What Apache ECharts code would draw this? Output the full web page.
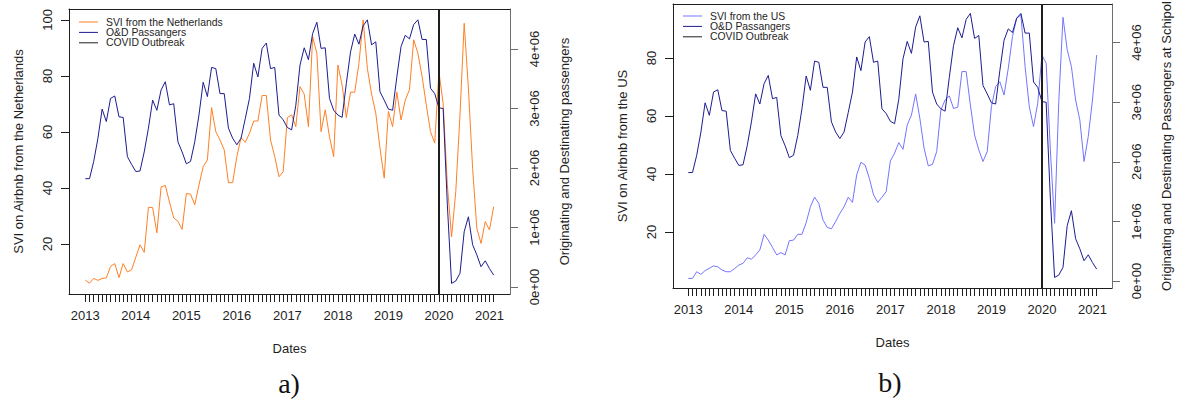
<!DOCTYPE html>
<html>
<head>
<meta charset="utf-8">
<script src="https://cdn.jsdelivr.net/npm/echarts@6.0.0/dist/echarts.min.js"></script>
<style>
  html, body { margin: 0; padding: 0; background: #ffffff; }
  #chart { width: 1178px; height: 405px; }
</style>
</head>
<body>
<div id="chart"></div>
<script>
// Monthly observations, index 0 = January 2013, last = February 2021
const years = ['2013', '2014', '2015', '2016', '2017', '2018', '2019', '2020', '2021'];

// Google search volume index for Airbnb, searches from the Netherlands
const svi_nl = [
  7.1, 6.0, 7.7, 7.0, 7.7, 7.9, 12.0, 13.0, 8.0, 13.0, 10.0, 10.8,
  15.3, 19.7, 17.0, 33.1, 33.0, 24.0, 40.3, 40.9, 35.0, 29.3, 28.1, 25.2,
  38.0, 37.8, 34.0, 41.0, 47.6, 50.0, 68.7, 60.1, 57.1, 53.6, 41.9, 41.9,
  51.2, 58.0, 56.3, 59.5, 63.9, 63.9, 73.0, 73.0, 57.1, 51.2, 44.0, 45.8,
  65.1, 66.1, 61.9, 76.2, 73.5, 61.9, 94.0, 88.1, 60.1, 67.9, 58.3, 51.2,
  83.9, 76.8, 65.1, 74.2, 74.2, 84.5, 100.0, 82.7, 73.5, 66.7, 54.2, 43.5,
  67.3, 61.9, 74.2, 64.3, 71.4, 75.0, 92.9, 88.1, 79.8, 69.6, 60.1, 56.0,
  81.5, 70.2, 41.1, 22.5, 38.7, 66.1, 98.8, 75.6, 47.0, 25.6, 20.2, 28.0,
  25.0, 33.3
];

// Google search volume index for Airbnb, searches from the US
const svi_us = [
  4.0, 4.0, 6.3, 5.4, 6.7, 7.5, 8.3, 8.0, 6.9, 6.3, 6.3, 7.4,
  8.6, 9.2, 11.1, 10.6, 12.1, 13.8, 19.2, 17.2, 14.7, 12.1, 12.9, 12.1,
  17.0, 17.2, 19.2, 19.2, 23.2, 28.7, 32.0, 29.9, 24.1, 21.6, 21.1, 23.6,
  26.4, 28.7, 32.0, 30.2, 39.7, 44.0, 43.1, 38.5, 32.8, 30.2, 32.0, 33.9,
  44.5, 47.2, 50.8, 48.5, 56.9, 60.3, 67.6, 59.2, 48.9, 42.8, 43.3, 47.7,
  62.1, 65.5, 66.9, 62.6, 63.0, 75.3, 75.3, 63.8, 53.4, 48.3, 44.3, 47.7,
  63.2, 70.1, 71.8, 67.2, 76.4, 87.4, 93.7, 94.8, 77.0, 63.2, 56.3, 64.4,
  81.0, 78.2, 48.3, 23.0, 65.0, 94.0, 82.8, 77.0, 65.5, 58.6, 44.3, 52.9,
  65.5, 81.0
];

// Originating and destinating passengers at Schiphol, millions per month
const passengers = [
  1.82, 1.82, 2.11, 2.50, 2.99, 2.78, 3.17, 3.21, 2.86, 2.85, 2.19, 2.06,
  1.94, 1.95, 2.27, 2.67, 3.14, 2.97, 3.31, 3.45, 3.06, 3.08, 2.44, 2.27,
  2.07, 2.11, 2.44, 2.89, 3.44, 3.20, 3.69, 3.67, 3.25, 3.25, 2.67, 2.50,
  2.39, 2.50, 2.83, 3.17, 3.76, 3.53, 4.01, 4.10, 3.67, 3.69, 2.89, 2.81,
  2.68, 2.64, 3.05, 3.73, 4.02, 3.82, 4.26, 4.45, 4.01, 4.02, 3.17, 2.97,
  2.89, 2.85, 3.42, 3.95, 4.25, 4.08, 4.39, 4.49, 4.07, 4.12, 3.28, 3.14,
  2.99, 2.97, 3.53, 4.04, 4.23, 4.17, 4.41, 4.49, 4.16, 4.16, 3.34, 3.25,
  3.01, 3.00, 1.38, 0.06, 0.10, 0.23, 0.93, 1.18, 0.71, 0.54, 0.34, 0.44,
  0.31, 0.20
];

// Month index of the COVID outbreak marker (January 2020)
const covidMonth = 84;

const svTicksA = [20, 40, 60, 80, 100];
const svTicksB = [20, 40, 60, 80];
const paxTicks = [0, 1, 2, 3, 4];

const FONT = '"Liberation Sans", Arial, Helvetica, sans-serif';
const INK = '#1e1e1e';
const GREY = '#6e6e6e';
const ORANGE = '#FF7F24';
const NAVY = '#1c1c90';
const PERIWINKLE = '#7474ff';

// thin horizontal bar used as the legend key
const KEY_ICON = 'path://M0,0H19V1H0Z';

const monthTicks = svi_nl.map((_, i) => i);
const yearTicks = years.map((_, i) => i * 12);
const pairs = arr => arr.map((v, i) => [i, v]);

const txt = size => ({ color: INK, fontSize: size, fontFamily: FONT });

function dateAxis(gridIndex, min, max) {
  return {
    type: 'value', gridIndex, min, max, position: 'bottom',
    splitLine: { show: false },
    axisLine: { show: true, onZero: false, lineStyle: { color: INK, width: 1 } },
    axisTick: { show: true, inside: false, length: 8, customValues: monthTicks,
                lineStyle: { color: INK, width: 1 } },
    axisLabel: { show: true, customValues: yearTicks, margin: 15,
                 formatter: v => years[Math.round(v / 12)], ...txt(13) },
    name: 'Dates', nameLocation: 'middle', nameGap: 48, nameTextStyle: txt(13)
  };
}

function topEdge(gridIndex, min, max) {
  return {
    type: 'value', gridIndex, min, max, position: 'top',
    splitLine: { show: false }, axisTick: { show: false }, axisLabel: { show: false },
    axisLine: { show: true, onZero: false, lineStyle: { color: INK, width: 1 } }
  };
}

function sviAxis(gridIndex, min, max, ticks, title) {
  return {
    type: 'value', gridIndex, min, max, position: 'left',
    splitLine: { show: false },
    axisLine: { show: true, onZero: false, lineStyle: { color: INK, width: 1 } },
    axisTick: { show: true, inside: false, length: 8, customValues: ticks,
                lineStyle: { color: INK, width: 1 } },
    axisLabel: { show: true, customValues: ticks, rotate: 90, margin: 15,
                 align: 'center', verticalAlign: 'bottom', ...txt(13) },
    name: title, nameLocation: 'middle', nameRotate: 90, nameGap: 44, nameTextStyle: txt(13)
  };
}

function paxAxis(gridIndex, min, max, title) {
  return {
    type: 'value', gridIndex, min, max, position: 'right',
    splitLine: { show: false },
    axisLine: { show: true, onZero: false, lineStyle: { color: GREY, width: 1 } },
    axisTick: { show: true, inside: false, length: 8, customValues: paxTicks,
                lineStyle: { color: GREY, width: 1 } },
    axisLabel: { show: true, customValues: paxTicks, rotate: 90, margin: 18,
                 align: 'center', verticalAlign: 'top',
                 formatter: v => (v === 0 ? '0e+00' : v + 'e+06'), ...txt(13) },
    name: title, nameLocation: 'middle', nameRotate: 90, nameGap: 48, nameTextStyle: txt(13)
  };
}

function lineSeries(name, data, xi, yi, color) {
  return {
    type: 'line', name, data: pairs(data), xAxisIndex: xi, yAxisIndex: yi,
    symbol: 'none', showSymbol: false, smooth: false, silent: true,
    color, lineStyle: { color, width: 1 }, emphasis: { disabled: true }
  };
}

function covidSeries(xi, yi) {
  return {
    type: 'line', name: 'COVID Outbreak', data: [], xAxisIndex: xi, yAxisIndex: yi,
    symbol: 'none', color: INK, lineStyle: { color: INK, width: 1 },
    markLine: {
      silent: true, symbol: ['none', 'none'], label: { show: false },
      lineStyle: { color: INK, width: 2, type: 'solid' },
      emphasis: { disabled: true },
      data: [{ xAxis: covidMonth }]
    }
  };
}

function legendFor(names, left, top) {
  return {
    data: names.map(name => ({ name, icon: KEY_ICON })),
    orient: 'vertical', left, top, padding: 0,
    itemWidth: 19, itemHeight: 12, itemGap: 0.4, selectedMode: false,
    symbolKeepAspect: true,
    textStyle: { ...txt(10.4), padding: [0, 0, 0, 3] }
  };
}

const chart = echarts.init(document.getElementById('chart'), null, { renderer: 'svg' });

chart.setOption({
  animation: false,
  backgroundColor: '#ffffff',
  grid: [
    { left: 69, top: 9, width: 441, height: 285, outerBoundsMode: 'none', containLabel: false },
    { left: 673, top: 4, width: 439, height: 284, outerBoundsMode: 'none', containLabel: false }
  ],
  xAxis: [
    dateAxis(0, -3.87, 100.88),
    dateAxis(1, -3.63, 100.64),
    topEdge(0, -3.87, 100.88),
    topEdge(1, -3.63, 100.64)
  ],
  yAxis: [
    sviAxis(0, 2.14, 103.9, svTicksA, 'SVI on Airbnb from the Netherlands'),
    paxAxis(0, -0.118, 4.672, 'Originating and Destinating passengers'),
    sviAxis(1, 0.69, 98.6, svTicksB, 'SVI on Airbnb from the US'),
    paxAxis(1, -0.117, 4.648, 'Originating and Destinating Passengers at Schipol')
  ],
  legend: [
    legendFor(['SVI from the Netherlands', 'O&D Passangers', 'COVID Outbreak'], 79, 17),
    legendFor(['SVI from the US', 'O&D Passangers', 'COVID Outbreak'], 683, 11)
  ],
  series: [
    lineSeries('SVI from the Netherlands', svi_nl, 0, 0, ORANGE),
    lineSeries('O&D Passangers', passengers, 0, 1, NAVY),
    covidSeries(0, 0),
    lineSeries('SVI from the US', svi_us, 1, 2, PERIWINKLE),
    lineSeries('O&D Passangers', passengers, 1, 3, NAVY),
    covidSeries(1, 2)
  ],
  graphic: [
    { type: 'text', x: 289, y: 383, silent: true,
      style: { text: 'a)', font: '28px "Liberation Serif", "DejaVu Serif", serif',
               fill: '#111', align: 'center', verticalAlign: 'middle' } },
    { type: 'text', x: 890, y: 382, silent: true,
      style: { text: 'b)', font: '28px "Liberation Serif", "DejaVu Serif", serif',
               fill: '#111', align: 'center', verticalAlign: 'middle' } }
  ]
});
</script>
</body>
</html>
